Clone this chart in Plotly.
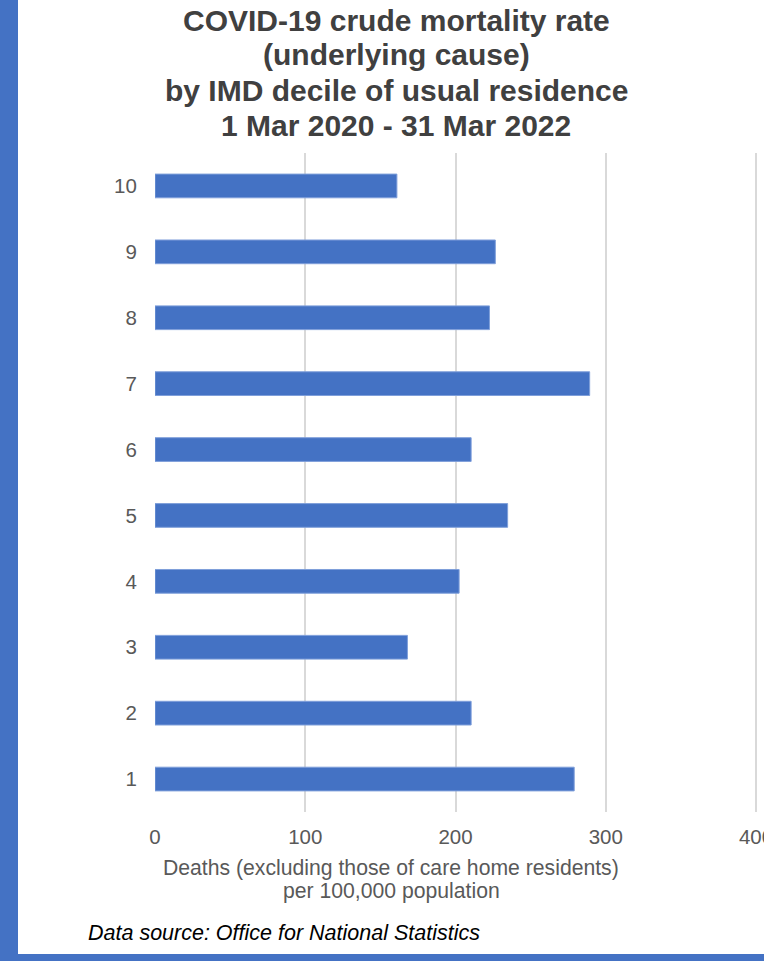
import plotly.graph_objects as go

deciles = ["1", "2", "3", "4", "5", "6", "7", "8", "9", "10"]
rates = [279.0, 210.4, 168.0, 202.4, 234.7, 210.4, 289.3, 222.6, 226.5, 161.0]
x_ticks = [0, 100, 200, 300, 400]
title_lines = ["COVID-19 crude mortality rate", "(underlying cause)",
               "by IMD decile of usual residence", "1 Mar 2020 - 31 Mar 2022"]
axis_title_lines = ["Deaths (excluding those of care home residents)", "per 100,000 population"]
source_text = "Data source: Office for National Statistics"

W, H = 764, 961
ML, MR, MT, MB = 155, 4, 153, 149
PW, PH = W - ML - MR, H - MT - MB
X_MAX = 400 * PW / 601.0
BLUE = "#4472C4"
FONT = "Liberation Sans, Arial, sans-serif"

def px(x):
    return (x - ML) / PW

def py(y):
    return (H - MB - y) / PH

fig = go.Figure(go.Bar(
    x=rates, y=deciles, orientation="h",
    marker=dict(color=BLUE, line=dict(color="#7f9fda", width=1)),
    hoverinfo="x+y",
))

fig.update_layout(
    width=W, height=H,
    margin=dict(l=ML, r=MR, t=MT, b=MB, autoexpand=False),
    paper_bgcolor="white", plot_bgcolor="white",
    bargap=0.64, showlegend=False,
    font=dict(family=FONT, color="#595959"),
    xaxis=dict(range=[0, X_MAX], tickvals=x_ticks, showgrid=True, gridcolor="#d9d9d9",
               gridwidth=1.5, zeroline=False, showline=False, ticks="outside",
               ticklen=6, tickcolor="rgba(0,0,0,0)", tickfont=dict(size=20.5, color="#595959"),
               ticklabeloverflow="allow", automargin=False, fixedrange=True),
    yaxis=dict(type="category", categoryorder="array", categoryarray=deciles,
               showgrid=False, zeroline=False, showline=False, ticks="outside",
               ticklen=13, tickcolor="rgba(0,0,0,0)", tickfont=dict(size=20.5, color="#595959"),
               automargin=False, fixedrange=True),
)

shapes = [
    dict(type="rect", xref="paper", yref="paper", x0=px(-5), x1=px(18), y0=py(-5), y1=py(H + 5),
         fillcolor=BLUE, line=dict(width=0), layer="above"),
    dict(type="rect", xref="paper", yref="paper", x0=px(-5), x1=px(W + 5), y0=py(954), y1=py(H + 5),
         fillcolor=BLUE, line=dict(width=0), layer="above"),
]
fig.update_layout(shapes=shapes)

annotations = []
title_y = [20, 55, 90, 125]
for t, yy in zip(title_lines, title_y):
    annotations.append(dict(text="<b>" + t + "</b>", xref="paper", yref="paper",
                            x=px(396), y=py(yy), xanchor="center", yanchor="middle",
                            showarrow=False, font=dict(size=30, color="#404040", family=FONT)))
for t, yy in zip(axis_title_lines, [868, 891]):
    annotations.append(dict(text=t, xref="paper", yref="paper", x=px(391), y=py(yy),
                            xanchor="center", yanchor="middle", showarrow=False,
                            font=dict(size=21.2, color="#595959", family=FONT)))
annotations.append(dict(text="<i>" + source_text + "</i>", xref="paper", yref="paper",
                        x=px(86), y=py(933), xanchor="left", yanchor="middle", showarrow=False,
                        font=dict(size=21.5, color="#000000", family=FONT)))
fig.update_layout(annotations=annotations)

fig.write_html("out.html", config={"displayModeBar": False},
               post_script="document.body.style.margin='0';document.body.style.overflow='hidden';")
